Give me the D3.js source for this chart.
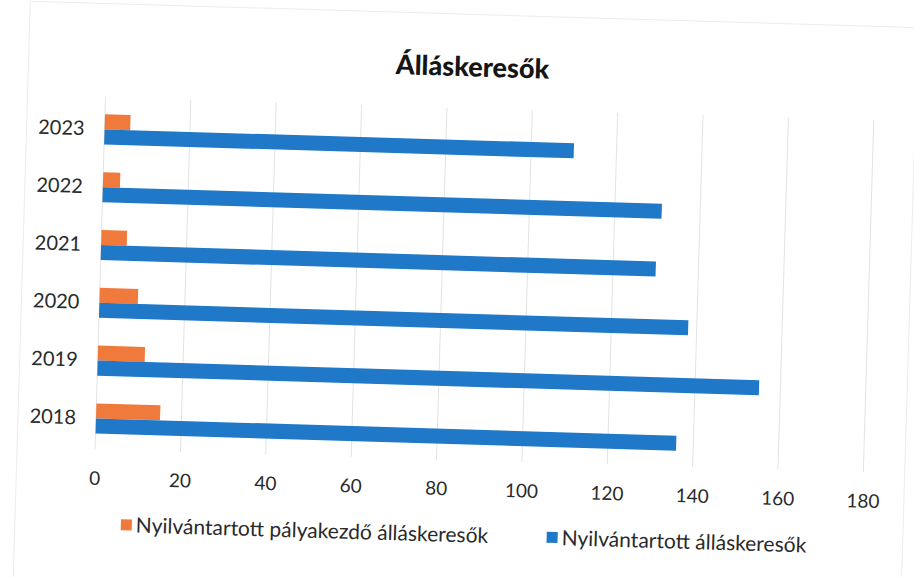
<!DOCTYPE html>
<html><head><meta charset="utf-8">
<script src="https://cdn.jsdelivr.net/npm/d3@7"></script>
<style>body{margin:0;background:#fff}svg{display:block}text{font-family:Lato,"Open Sans",sans-serif;fill:#2a2a2a}</style>
</head><body>
<svg id="c" width="914" height="577"></svg>
<script>
const years = ["2018","2019","2020","2021","2022","2023"];
const palyakezdo = [15, 11, 9, 6, 4, 6];
const osszes = [136, 155, 138, 130, 131, 110];
const xTicks = [0,20,40,60,80,100,120,140,160,180];
const seriesNames = ["Nyilvántartott pályakezdő álláskeresők","Nyilvántartott álláskeresők"];
const colors = ["#f07a3c","#1f78c8"];

const svg = d3.select("#c");
svg.append("rect").attr("width",914).attr("height",577).attr("fill","#fff");
const g = svg.append("g").attr("transform","rotate(1.7,457,288)");
g.append("rect").attr("x",22).attr("y",14).attr("width",888).attr("height",590)
  .attr("fill","none").attr("stroke","#ececec");

const x = d3.scaleLinear().domain([0,180]).range([100,868.6]);
const y = d3.scaleBand().domain(years.slice().reverse()).range([111,458]).paddingInner(0.48).paddingOuter(0.24);
const sub = d3.scaleBand().domain([0,1]).range([0,y.bandwidth()]);

g.append("g").selectAll("line").data(xTicks).join("line")
  .attr("x1",d=>x(d)).attr("x2",d=>x(d)).attr("y1",108).attr("y2",460)
  .attr("stroke","#e3e3e3").attr("stroke-width",1);

const series = [palyakezdo, osszes];
series.forEach((vals,si)=>{
  g.append("g").selectAll("rect").data(years).join("rect")
    .attr("x",x(0)).attr("y",(d)=>y(d)+sub(si))
    .attr("width",(d,i)=>x(vals[i])-x(0)).attr("height",sub.bandwidth())
    .attr("fill",colors[si]);
});

const xa = g.append("g").attr("transform","translate(0,468)")
  .call(d3.axisBottom(x).tickValues(xTicks).tickSize(0).tickPadding(14));
xa.select(".domain").remove();
xa.selectAll("text").style("font-size","19px").attr("fill","#2a2a2a").style("font-family","Lato");

const ya = g.append("g").attr("transform","translate(96,0)")
  .call(d3.axisLeft(y).tickSize(0).tickPadding(16));
ya.select(".domain").remove();
ya.selectAll("text").style("font-size","20px").attr("fill","#2a2a2a").style("font-family","Lato");

g.append("text").attr("x",466).attr("y",76).attr("text-anchor","middle")
  .style("font-size","27px").style("font-weight","900").style("fill","#151515").text("Álláskeresők");

const legX = [128, 554];
seriesNames.forEach((n,i)=>{
  g.append("rect").attr("x",legX[i]).attr("y",529).attr("width",11).attr("height",11).attr("fill",colors[i]);
  g.append("text").attr("x",legX[i]+15).attr("y",542).style("font-size","21px").text(n);
});
</script>
</body></html>
